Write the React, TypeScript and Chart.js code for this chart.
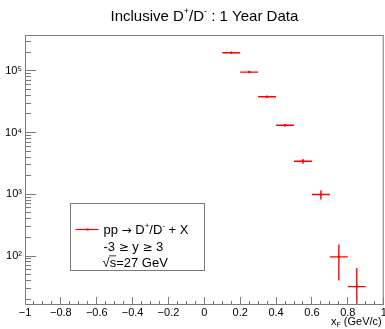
import React, { useEffect, useRef } from 'react';
import { Chart, registerables } from 'chart.js';

Chart.register(...registerables);

const FONT = '"Liberation Sans", Arial, Helvetica, sans-serif';
const SYMFONT = '"DejaVu Sans", "Liberation Sans", sans-serif';

// ---- data ----
const xCenters = [0.15, 0.25, 0.35, 0.45, 0.55, 0.65, 0.75, 0.85];
const xHalfWidths = [0.05, 0.05, 0.05, 0.05, 0.05, 0.05, 0.05, 0.05];
const yValues = [195000, 95000, 38000, 13100, 3430, 990, 97, 32];
const yErrors = [2500, 1500, 900, 600, 300, 170, 57, 32];

// ---- axes ----
const xMin = -1;
const xMax = 1;
const yMin = 16.1;
const yMax = 379000;
const xMajorTicks = [-1, -0.8, -0.6, -0.4, -0.2, 0, 0.2, 0.4, 0.6, 0.8, 1];
const xMajorTickLabels = ['\u22121', '\u22120.8', '\u22120.6', '\u22120.4', '\u22120.2', '0', '0.2', '0.4', '0.6', '0.8', '1'];
const xMinorPerMajor = 4;
const yDecadeTicks = [10, 100, 1000, 10000, 100000];
const yDecadeLabels = ['10\u00b9', '10\u00b2', '10\u00b3', '10\u2074', '10\u2075'];
const yMinorMantissas = [2, 3, 4, 5, 6, 7, 8, 9];

// ---- texts ----
const titleSegs = [
  { t: 'Inclusive D' }, { t: '+', k: 'sup' }, { t: '/D' }, { t: '-', k: 'sup' }, { t: ' : 1 Year Data' },
];
const xTitleSegs = [{ t: 'x' }, { t: 'F', k: 'sub' }, { t: ' (GeV/c)' }];
const legendLine1 = [
  { t: 'pp ' }, { t: '\u2192', k: 'sym' }, { t: ' D' }, { t: '+', k: 'sup' }, { t: '/D' }, { t: '-', k: 'sup' }, { t: ' + X' },
];
const legendLine2 = [{ t: '-3 ' }, { t: '\u2265', k: 'sym' }, { t: ' y ' }, { t: '\u2265', k: 'sym' }, { t: ' 3' }];
const legendLine3Sqrt = '\u221A';
const legendLine3Under = 's';
const legendLine3Rest = '=27 GeV';

const RED = '#ff0000';
const FRAME = '#7a7a7a';

type Seg = { t: string; k?: string };

function drawRich(ctx: CanvasRenderingContext2D, segs: Seg[], x: number, y: number, size: number, align: string) {
  const fontFor = (s: Seg) =>
    s.k === 'sym'
      ? `${Math.round(size * 0.9)}px ${SYMFONT}`
      : `${s.k ? Math.round(size * 0.62) : size}px ${FONT}`;
  const widths = segs.map((s) => {
    ctx.font = fontFor(s);
    return ctx.measureText(s.t).width;
  });
  const total = widths.reduce((a, b) => a + b, 0);
  let cx = align === 'left' ? x : align === 'center' ? x - total / 2 : x - total;
  ctx.textAlign = 'left';
  ctx.textBaseline = 'alphabetic';
  segs.forEach((s, i) => {
    ctx.font = fontFor(s);
    const dy = s.k === 'sup' ? -size * 0.42 : s.k === 'sub' ? size * 0.22 : 0;
    ctx.fillText(s.t, cx, y + dy);
    cx += widths[i];
  });
  return total;
}

const isXMajor = (v: number) => xMajorTicks.findIndex((m) => Math.abs(m - v) < 1e-6);
const isDecade = (v: number) => yDecadeTicks.findIndex((d) => Math.abs(d - v) / d < 1e-6);

const rootPlugin = {
  id: 'rootStyle',
  beforeDatasetsDraw(chart: any) {
    const ctx = chart.ctx as CanvasRenderingContext2D;
    const { left, right, top, bottom } = chart.chartArea;
    const xs = chart.scales.x;
    const ys = chart.scales.y;
    ctx.save();
    ctx.beginPath();
    ctx.rect(left, top, right - left, bottom - top);
    ctx.clip();
    ctx.strokeStyle = RED;
    ctx.lineWidth = 1.4;
    ctx.beginPath();
    xCenters.forEach((xc, i) => {
      const py = ys.getPixelForValue(yValues[i]);
      const px = xs.getPixelForValue(xc);
      const x0 = xs.getPixelForValue(xc - xHalfWidths[i]);
      const x1 = xs.getPixelForValue(xc + xHalfWidths[i]);
      const lo = Math.max(yValues[i] - yErrors[i], ys.min);
      const y0 = ys.getPixelForValue(lo);
      const y1 = ys.getPixelForValue(yValues[i] + yErrors[i]);
      ctx.moveTo(x0, py);
      ctx.lineTo(x1, py);
      ctx.moveTo(px, y0);
      ctx.lineTo(px, y1);
    });
    ctx.stroke();
    ctx.restore();
  },
  afterDraw(chart: any) {
    const ctx = chart.ctx as CanvasRenderingContext2D;
    const { left, right, top, bottom } = chart.chartArea;
    const xs = chart.scales.x;
    const ys = chart.scales.y;
    ctx.save();
    // ticks (inside the frame, ROOT style)
    ctx.strokeStyle = FRAME;
    ctx.lineWidth = 1;
    ctx.beginPath();
    xs.ticks.forEach((t: any) => {
      const px = Math.floor(xs.getPixelForValue(t.value)) + 0.5;
      const len = isXMajor(t.value) >= 0 ? 8 : 4;
      ctx.moveTo(px, bottom);
      ctx.lineTo(px, bottom - len);
    });
    ys.ticks.forEach((t: any) => {
      const py = Math.floor(ys.getPixelForValue(t.value)) + 0.5;
      const len = isDecade(t.value) >= 0 ? 11 : 6;
      ctx.moveTo(left, py);
      ctx.lineTo(left + len, py);
    });
    ctx.stroke();
    // frame
    ctx.strokeRect(left + 0.5, top + 0.5, right - left - 1, bottom - top - 1);

    // title
    ctx.fillStyle = '#000';
    drawRich(ctx, titleSegs, (left + right) / 2, 20.5, 15, 'center');

    // x axis title
    drawRich(ctx, xTitleSegs, right - 2, 325, 11, 'right');

    // legend box
    const w = right - left;
    const h = bottom - top;
    const bl = Math.round(left + 0.125 * w) + 0.5;
    const br = Math.round(left + 0.4986 * w) + 0.5;
    const bt = Math.round(top + 0.622 * h) + 0.5;
    const bb = Math.round(top + 0.87 * h) + 0.5;
    ctx.fillStyle = '#fff';
    ctx.fillRect(bl, bt, br - bl, bb - bt);
    ctx.strokeStyle = FRAME;
    ctx.lineWidth = 1;
    ctx.strokeRect(bl, bt, br - bl, bb - bt);
    // legend sample
    const sy = bt + 26;
    ctx.strokeStyle = RED;
    ctx.lineWidth = 1.2;
    ctx.beginPath();
    ctx.moveTo(bl + 5, sy);
    ctx.lineTo(bl + 28, sy);
    ctx.stroke();
    ctx.fillStyle = RED;
    ctx.fillRect(bl + 16, sy - 1, 2, 2);
    // legend text
    ctx.fillStyle = '#000';
    const tx = bl + 33;
    const fs = 13;
    drawRich(ctx, legendLine1, tx, bt + 30, fs, 'left');
    drawRich(ctx, legendLine2, tx, bt + 47, fs, 'left');
    const by3 = bt + 63;
    ctx.font = `${fs}px ${FONT}`;
    ctx.textAlign = 'left';
    ctx.textBaseline = 'alphabetic';
    ctx.fillText(legendLine3Sqrt, tx - 1, by3);
    const ws = ctx.measureText(legendLine3Sqrt).width;
    ctx.fillText(legendLine3Under, tx - 1 + ws, by3);
    const wu = ctx.measureText(legendLine3Under).width;
    ctx.fillText(legendLine3Rest, tx - 1 + ws + wu, by3);
    ctx.strokeStyle = '#000';
    ctx.lineWidth = 0.8;
    ctx.beginPath();
    ctx.moveTo(tx - 1 + ws - 0.5, by3 - fs * 0.82);
    ctx.lineTo(tx - 1 + ws + wu, by3 - fs * 0.82);
    ctx.stroke();
    ctx.restore();
  },
};

export default function App() {
  const ref = useRef<HTMLCanvasElement | null>(null);
  useEffect(() => {
    if (!ref.current) return;
    const chart = new Chart(ref.current, {
      type: 'scatter',
      data: {
        datasets: [
          {
            data: xCenters.map((x, i) => ({ x, y: yValues[i] })),
            backgroundColor: RED,
            borderColor: RED,
            borderWidth: 0,
            pointRadius: 1.3,
            pointHoverRadius: 1.3,
          },
        ],
      },
      options: {
        animation: false,
        responsive: false,
        devicePixelRatio: 1,
        events: [],
        layout: { padding: { top: 35, right: 1, left: 0, bottom: 0 } },
        plugins: {
          legend: { display: false },
          title: { display: false },
          tooltip: { enabled: false },
        },
        scales: {
          x: {
            type: 'linear',
            min: xMin,
            max: xMax,
            grid: { display: false, drawTicks: false },
            border: { display: false },
            afterBuildTicks: (scale: any) => {
              const ticks: any[] = [];
              for (let i = 0; i < xMajorTicks.length - 1; i++) {
                const step = (xMajorTicks[i + 1] - xMajorTicks[i]) / xMinorPerMajor;
                for (let k = 0; k < xMinorPerMajor; k++) ticks.push({ value: xMajorTicks[i] + k * step });
              }
              ticks.push({ value: xMajorTicks[xMajorTicks.length - 1] });
              scale.ticks = ticks;
            },
            afterFit: (scale: any) => {
              scale.height = 24;
              scale.paddingLeft = 0;
              scale.paddingRight = 0;
            },
            ticks: {
              autoSkip: false,
              maxRotation: 0,
              padding: 1,
              color: '#000',
              font: { family: FONT, size: 11 },
              callback: (v: any) => {
                const i = isXMajor(Number(v));
                return i >= 0 ? xMajorTickLabels[i] : '';
              },
            },
          },
          y: {
            type: 'logarithmic',
            min: yMin,
            max: yMax,
            grid: { display: false, drawTicks: false },
            border: { display: false },
            afterBuildTicks: (scale: any) => {
              const ticks: any[] = [];
              yDecadeTicks.forEach((d) => {
                if (d >= yMin && d <= yMax) ticks.push({ value: d });
                yMinorMantissas.forEach((m) => {
                  const v = d * m;
                  if (v >= yMin && v <= yMax) ticks.push({ value: v });
                });
              });
              scale.ticks = ticks;
            },
            afterFit: (scale: any) => {
              scale.width = 25;
              scale.paddingTop = 0;
              scale.paddingBottom = 0;
            },
            ticks: {
              autoSkip: false,
              padding: 3,
              color: '#000',
              font: { family: FONT, size: 11 },
              callback: (v: any) => {
                const i = isDecade(Number(v));
                return i >= 0 ? yDecadeLabels[i] : '';
              },
            },
          },
        },
      },
      plugins: [rootPlugin],
    } as any);
    return () => chart.destroy();
  }, []);
  return (
    <div style={{ position: 'absolute', left: 0, top: 0, width: 385, height: 329, background: '#fff' }}>
      <canvas ref={ref} width={385} height={329} style={{ display: 'block', width: 385, height: 329 }} />
    </div>
  );
}
